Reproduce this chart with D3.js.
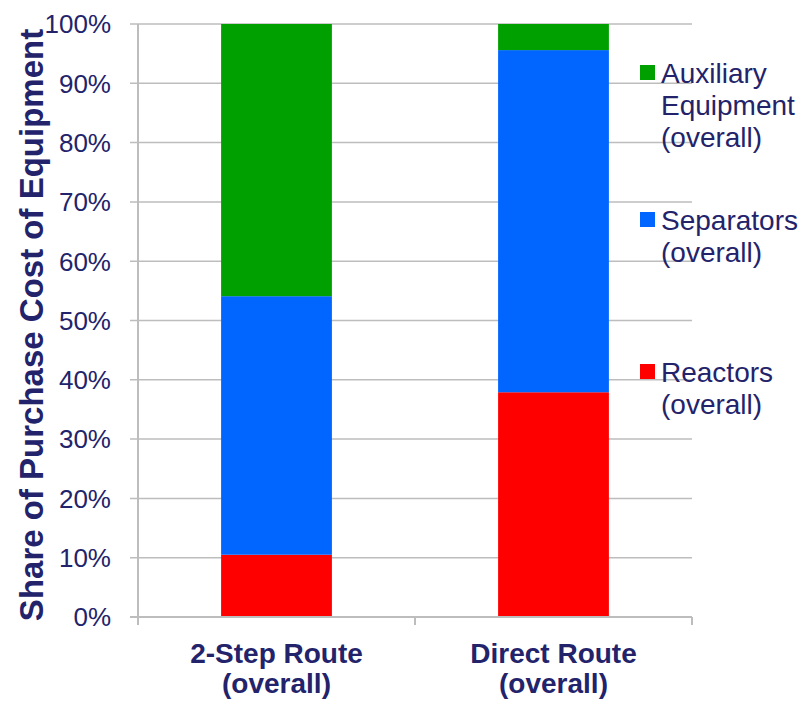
<!DOCTYPE html>
<html>
<head>
<meta charset="utf-8">
<script src="https://cdn.jsdelivr.net/npm/d3@7"></script>
<style>
  body { margin: 0; background: #fff; }
  svg text { font-family: "Liberation Sans", Arial, sans-serif; fill: #23236b; }
</style>
</head>
<body>
<svg id="chart" width="807" height="703"></svg>
<script>
// data
const routes = [['2-Step Route', '(overall)'], ['Direct Route', '(overall)']];
const seriesNames = ['Reactors', 'Separators', 'Auxiliary Equipment'];
const legendLines = [['Auxiliary', 'Equipment', '(overall)'], ['Separators', '(overall)'], ['Reactors', '(overall)']];
const reactors = [0.105, 0.379];
const separators = [0.436, 0.577];
const auxiliary = [0.459, 0.044];
const colors = ['#ff0000', '#0066ff', '#00a000'];
const yTicks = [0, 0.1, 0.2, 0.3, 0.4, 0.5, 0.6, 0.7, 0.8, 0.9, 1.0];

const margin = { top: 24, right: 115, bottom: 86, left: 138 };
const W = 807, H = 703;
const width = W - margin.left - margin.right;
const height = H - margin.top - margin.bottom;

const svg = d3.select('#chart');
const g = svg.append('g').attr('transform', 'translate(' + margin.left + ',' + margin.top + ')');

const table = routes.map((r, i) => ({ key: i, Reactors: reactors[i], Separators: separators[i], 'Auxiliary Equipment': auxiliary[i] }));
const stack = d3.stack().keys(seriesNames)(table);

const x = d3.scaleBand().domain(d3.range(routes.length)).range([0, width]).paddingInner(0.6).paddingOuter(0.3);
const xOuter = d3.scaleBand().domain(d3.range(routes.length)).range([0, width]);
const y = d3.scaleLinear().domain([0, 1]).range([height, 0]);

// gridlines
g.append('g').selectAll('line').data(yTicks).join('line')
  .attr('x1', -8).attr('x2', width)
  .attr('y1', d => y(d)).attr('y2', d => y(d))
  .attr('stroke', '#bdbdbd').attr('stroke-width', 1.5);

// y tick labels
g.append('g').selectAll('text').data(yTicks).join('text')
  .attr('x', -27).attr('y', d => y(d)).attr('dy', '0.36em')
  .attr('text-anchor', 'end').style('font-size', '26px')
  .text(d => d3.format('.0%')(d));

// bars
g.append('g').selectAll('g').data(stack).join('g')
  .attr('fill', (d, i) => colors[i])
  .selectAll('rect').data(d => d).join('rect')
  .attr('x', (d, i) => x(i)).attr('width', x.bandwidth())
  .attr('y', d => y(d[1])).attr('height', d => y(d[0]) - y(d[1]));

// axes lines
g.append('line').attr('x1', 0).attr('x2', 0).attr('y1', 0).attr('y2', height + 8)
  .attr('stroke', '#bdbdbd').attr('stroke-width', 2);
g.append('line').attr('x1', -8).attr('x2', width).attr('y1', height).attr('y2', height)
  .attr('stroke', '#bdbdbd').attr('stroke-width', 2);
g.append('g').selectAll('line').data(d3.range(routes.length + 1)).join('line')
  .attr('x1', d => d * xOuter.bandwidth()).attr('x2', d => d * xOuter.bandwidth())
  .attr('y1', height).attr('y2', height + 8)
  .attr('stroke', '#bdbdbd').attr('stroke-width', 2);

// x labels
const xl = g.append('g').selectAll('text').data(routes).join('text')
  .attr('x', (d, i) => x(i) + x.bandwidth() / 2)
  .attr('y', height + 46)
  .attr('text-anchor', 'middle').style('font-size', '28px').style('font-weight', 'bold');
xl.selectAll('tspan').data(d => d).join('tspan')
  .attr('x', function () { return this.parentNode.getAttribute('x'); })
  .attr('dy', (d, i) => i === 0 ? 0 : 30)
  .text(d => d);

// y title
svg.append('text')
  .attr('transform', 'translate(43,325) rotate(-90)')
  .attr('text-anchor', 'middle').style('font-size', '33px').style('font-weight', 'bold')
  .text('Share of Purchase Cost of Equipment');

// legend
const legendBase = [83, 230, 382];
const lg = svg.append('g').attr('transform', 'translate(640,0)');
const legendColors = [colors[2], colors[1], colors[0]];
legendLines.forEach((lines, i) => {
  lg.append('rect').attr('x', 0).attr('y', legendBase[i] - 18).attr('width', 15).attr('height', 15)
    .attr('fill', legendColors[i]);
  const t = lg.append('text').attr('x', 21).attr('y', legendBase[i])
    .style('font-size', '28px');
  t.selectAll('tspan').data(lines).join('tspan')
    .attr('x', 21).attr('dy', (d, j) => j === 0 ? 0 : 32)
    .text(d => d);
});
</script>
</body>
</html>
